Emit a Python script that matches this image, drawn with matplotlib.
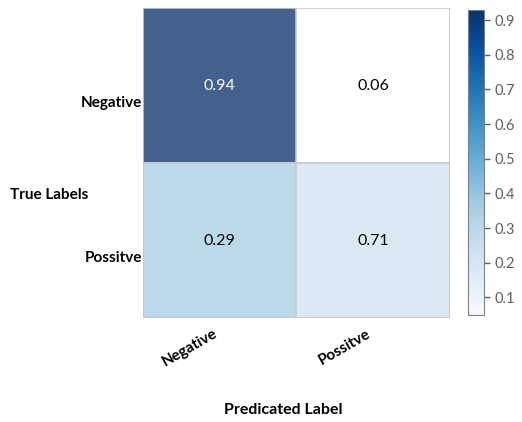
import numpy as np
import matplotlib
matplotlib.use("Agg")
import matplotlib.pyplot as plt
from matplotlib import cm, colors

plt.rcParams['font.family'] = ['Lato', 'DejaVu Sans']

# confusion matrix values (row = true, col = predicted)
labels = ['Negative', 'Possitve']
values = [[0.94, 0.06],
          [0.29, 0.71]]
# shade used for each cell in the original picture
shade = [[0.96, 0.0],
         [0.36, 0.22]]
cbar_ticks = [0.1, 0.2, 0.3, 0.4, 0.5, 0.6, 0.7, 0.8, 0.9]

fig = plt.figure(figsize=(5.22, 4.22), dpi=100)
ax = fig.add_axes([0.274, 0.246, 0.588, 0.735])
norm = colors.Normalize(vmin=0.05, vmax=0.93)
cmap = plt.get_cmap('Blues').copy()
cmap.set_under('white')

ax.imshow(np.array(shade), cmap=cmap, norm=norm, alpha=0.76, aspect='auto')

for i in range(2):
    for j in range(2):
        v = values[i][j]
        ax.text(j, i, '%.2f' % v, ha='center', va='center', fontsize=11.5,
                color='white' if shade[i][j] > 0.6 else 'black')

# cell borders
for p in [-0.5, 0.5, 1.5]:
    ax.axhline(p, color='#c8c8c8', lw=1.2)
    ax.axvline(p, color='#c8c8c8', lw=1.2)
for s in ax.spines.values():
    s.set_visible(False)

ax.set_xticks(range(2))
ax.set_yticks([0.1, 1.1])
ax.set_xticklabels(labels, rotation=30, ha='right', fontweight='bold', fontsize=11)
ax.set_yticklabels(labels, fontweight='bold', fontsize=11)
ax.tick_params(length=0, pad=1)
ax.tick_params(axis='x', pad=6)
ax.set_xlim(-0.5, 1.5)
ax.set_ylim(1.5, -0.5)

fig.text(0.019, 0.538, 'True Labels', fontweight='bold', fontsize=11, va='center')
fig.text(0.542, 0.028, 'Predicated Label', fontweight='bold', fontsize=11.5, ha='center', va='center')

cax = fig.add_axes([0.897, 0.254, 0.031, 0.723])
sm = cm.ScalarMappable(norm=norm, cmap=plt.get_cmap('Blues'))
cb = fig.colorbar(sm, cax=cax, ticks=cbar_ticks)
cb.outline.set_edgecolor('#808080')
cb.ax.tick_params(colors='#606060', labelsize=10.5, length=4, width=1)
cb.ax.set_yticklabels(['%.1f' % t for t in cbar_ticks])

fig.savefig('out.png', dpi=100)
